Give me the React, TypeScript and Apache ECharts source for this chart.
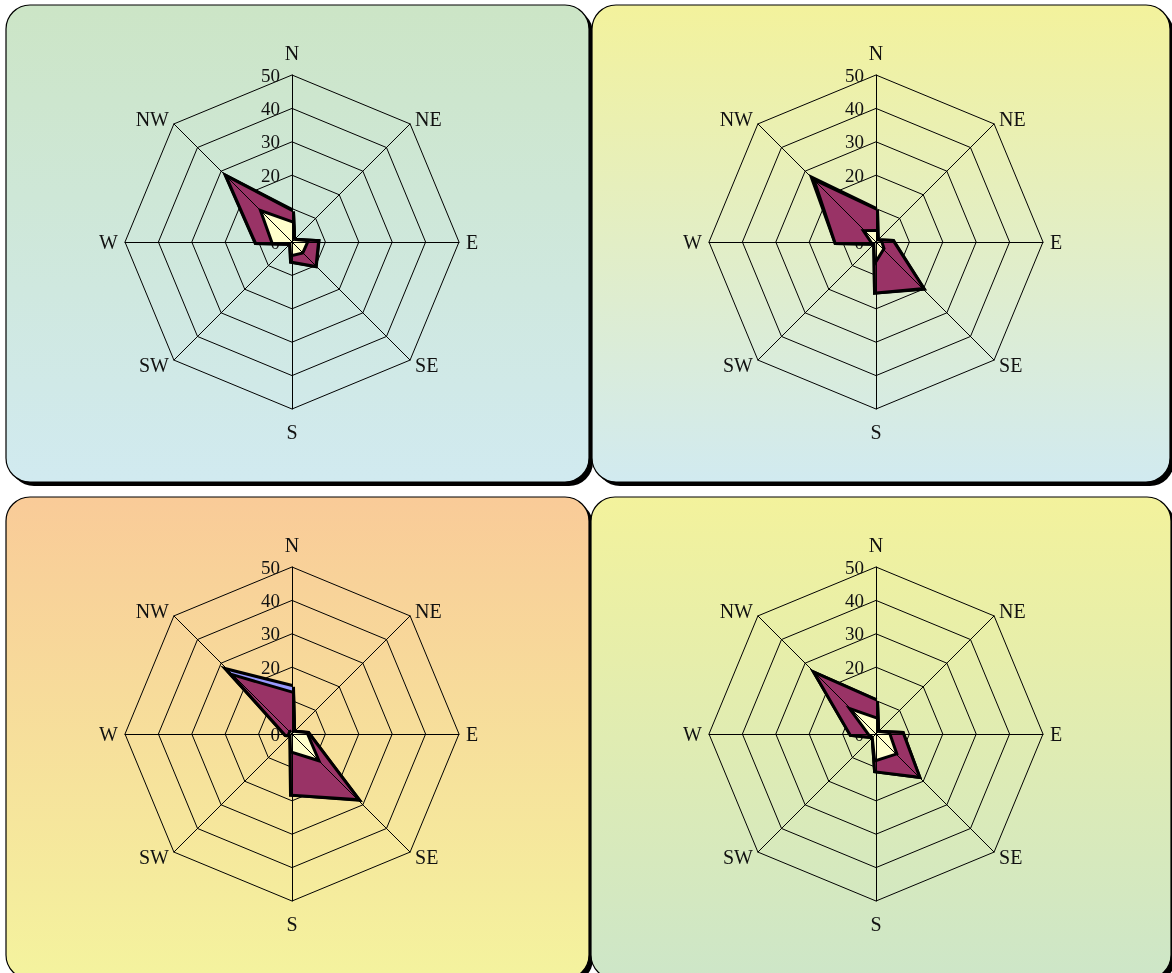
import React, { useEffect, useRef } from "react";
import * as echarts from "echarts";

const directions = ["N", "NE", "E", "SE", "S", "SW", "W", "NW"];
const tickLabels = ["0", "10", "20", "30", "40", "50"];
const seriesNames = ["Series 1", "Series 2", "Series 3"];

// values per panel, in the order of `directions`
const p1Blue = [9.2, 0.5, 7.6, 9.7, 5.7, 0.3, 10.7, 27];
const p1Plum = [9, 0.5, 7.5, 9.6, 5.6, 0.3, 10.6, 26.8];
const p1Cream = [5.6, 0.5, 4.2, 4.1, 3.6, 0.3, 5.6, 12.3];

const p2Blue = [9.6, 0.3, 5, 19.4, 14.8, 0.3, 11.9, 26.3];
const p2Plum = [9.4, 0.3, 4.9, 19.2, 14.8, 0.3, 11.9, 25.2];
const p2Cream = [3, 0.3, 1.3, 2.7, 5, 0.3, 1, 4.2];

const p3Blue = [14.1, 0.5, 4.7, 27.3, 17.9, 0.2, 1.8, 26.6];
const p3Plum = [12.1, 0.5, 4.7, 27.1, 17.9, 0.2, 1.8, 24.1];
const p3Cream = [0.5, 0.5, 4.2, 10.3, 5, 0.2, 0.5, 0.5];

const p4Blue = [9.8, 0.5, 7.8, 17.6, 10.9, 1, 7.4, 24.9];
const p4Plum = [9.8, 0.5, 7.8, 17.6, 10.9, 1, 7.4, 24.9];
const p4Cream = [4.4, 0.5, 3.7, 8, 7.5, 1, 1.8, 9.5];

const panels = [
  { center: [292, 242], box: [6, 5, 583, 477], top: "#cce5c6", bottom: "#d1eaf0", data: [p1Blue, p1Plum, p1Cream] },
  { center: [876, 242], box: [592, 5, 578, 477], top: "#f3f29c", bottom: "#d1eaf0", data: [p2Blue, p2Plum, p2Cream] },
  { center: [292, 734], box: [6, 497, 583, 482], top: "#f9cb98", bottom: "#f4f39e", data: [p3Blue, p3Plum, p3Cream] },
  { center: [876, 734], box: [591, 497, 580, 482], top: "#f3f29c", bottom: "#cde6c8", data: [p4Blue, p4Plum, p4Cream] },
];

const colors = ["#9999ff", "#993366", "#ffffcc"];
const FONT = "Liberation Serif";

export default function App() {
  const ref = useRef<HTMLDivElement>(null);
  useEffect(() => {
    if (!ref.current) return;
    const chart = echarts.init(ref.current, undefined, { renderer: "svg" });
    const order = [0, 7, 6, 5, 4, 3, 2, 1]; // N, NW, W, ... counter-clockwise
    const indicatorBase = (withLabels: boolean) =>
      order.map((i, k) => ({
        name: directions[i],
        max: 50,
        min: 0,
        axisLabel: { show: withLabels && k === 0 },
      }));
    const radars: any[] = [];
    const series: any[] = [];
    const graphics: any[] = [];
    panels.forEach((p, pi) => {
      const [bx, by, bw, bh] = p.box;
      graphics.push({
        type: "rect",
        shape: { x: bx + 4, y: by + 4, width: bw, height: bh, r: 24 },
        style: { fill: "#000" },
        z: -10,
      });
      graphics.push({
        type: "rect",
        shape: { x: bx, y: by, width: bw, height: bh, r: 24 },
        style: {
          fill: new echarts.graphic.LinearGradient(0, 0, 0, 1, [
            { offset: 0, color: p.top },
            { offset: 1, color: p.bottom },
          ]),
          stroke: "#000",
          lineWidth: 1.2,
        },
        z: -9,
      });
      radars.push({
        center: p.center,
        radius: 167,
        startAngle: 90,
        splitNumber: 5,
        shape: "polygon",
        indicator: indicatorBase(true),
        axisName: {
          color: "#111",
          fontFamily: FONT,
          fontSize: 20,
          formatter: (name: string) =>
            name === "N" ? "{n|N}" : name === "S" ? "{s|S}" : name,
          rich: {
            n: { fontFamily: FONT, fontSize: 20, color: "#111", padding: [0, 0, 5, 0] },
            s: { fontFamily: FONT, fontSize: 20, color: "#111", padding: [6, 0, 0, 0] },
          },
        },
        axisNameGap: 7,
        axisLine: { show: false },
        splitLine: { lineStyle: { color: "#000", width: 1 } },
        splitArea: { show: false },
        axisLabel: {
          show: false,
          color: "#111",
          fontFamily: FONT,
          fontSize: 19,
          margin: 12,
          formatter: (v: number) => tickLabels[Math.round(v / 10)] ?? String(v),
        },
        axisTick: { show: false },
        z: 0,
      });
      radars.push({
        center: p.center,
        radius: 167,
        startAngle: 90,
        splitNumber: 5,
        shape: "polygon",
        indicator: indicatorBase(false),
        axisName: { show: false },
        axisLine: { show: true, lineStyle: { color: "#000", width: 1 } },
        splitLine: { show: false },
        splitArea: { show: false },
        axisLabel: { show: false },
        axisTick: { show: false },
        z: 5,
      });
      p.data.forEach((vals, si) => {
        series.push({
          type: "radar",
          radarIndex: pi * 2,
          z: 2 + si * 0.1,
          symbol: "none",
          silent: true,
          lineStyle: { color: "#000", width: 6, join: "miter" },
          areaStyle: { color: colors[si], opacity: 1 },
          itemStyle: { color: colors[si] },
          data: [{ name: seriesNames[si], value: order.map((i) => vals[i]) }],
        });
      });
    });
    chart.setOption({
      animation: false,
      graphic: graphics,
      radar: radars,
      series,
    });
    return () => chart.dispose();
  }, []);
  return (
    <div
      ref={ref}
      style={{ position: "fixed", left: 0, top: 0, width: 1172, height: 973 }}
    />
  );
}
